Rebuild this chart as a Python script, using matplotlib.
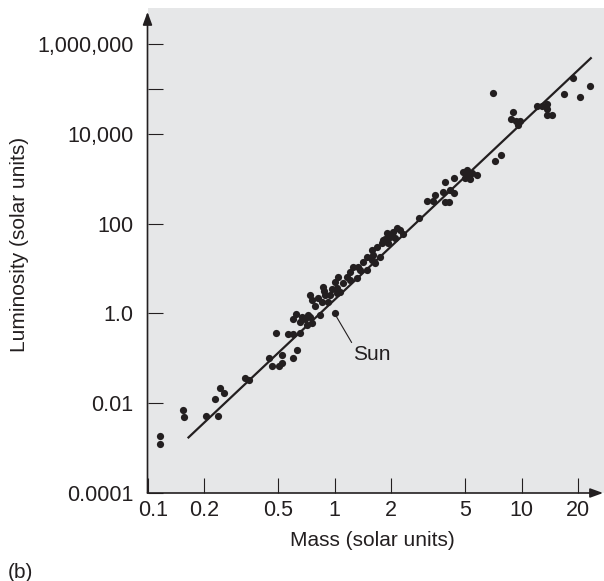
import matplotlib
matplotlib.use('Agg')
import matplotlib.pyplot as plt
from matplotlib.transforms import ScaledTranslation

plt.rcParams['font.family'] = ['Liberation Sans', 'DejaVu Sans']

ink = '#231f20'
bg = '#e6e7e8'

# stars: mass and luminosity in solar units
mass = [0.116, 0.116, 0.154, 0.157, 0.205, 0.238, 0.230, 0.243, 0.257, 0.333,
        0.351, 0.444, 0.461, 0.486, 0.507, 0.521, 0.523, 0.562, 0.602, 0.602,
        0.632, 0.654, 0.622, 0.602, 0.654, 0.695, 0.740, 0.755, 0.710, 0.837,
        0.668, 0.724, 0.740, 0.755, 0.787, 0.819, 0.855, 0.889, 0.927, 0.946,
        0.879, 1.028, 0.871, 0.966, 1.028, 1.070, 1.006, 1.114, 1.048, 1.162,
        1.21, 1.21, 1.26, 1.314, 1.34, 1.369, 1.426, 1.487, 1.487, 1.58,
        1.647, 1.58, 1.613, 1.682, 1.751, 1.788, 1.824, 1.916, 1.94, 1.862,
        1.981, 2.063, 2.15, 2.24, 2.33, 2.106, 2.82, 3.14, 3.38, 3.45,
        3.80, 3.90, 4.10, 3.90, 4.15, 4.33, 4.36, 4.88, 5.09, 5.19,
        4.99, 5.30, 5.76, 5.42, 7.22, 7.77, 7.07, 8.97, 8.79, 9.29,
        9.78, 9.52, 12.15, 12.8, 13.6, 13.6, 13.7, 14.6, 18.8, 16.9,
        20.6, 23.2]
lum = [0.00183, 0.00122, 0.00698, 0.0050, 0.00527, 0.00527, 0.0121, 0.0221, 0.0166, 0.0370,
       0.0321, 0.0991, 0.0675, 0.372, 0.0664, 0.0798, 0.117, 0.343, 0.343, 0.100,
       0.153, 0.360, 0.970, 0.740, 0.653, 0.740, 0.843, 0.603, 0.552, 0.920,
       0.843, 0.920, 2.57, 1.99, 1.46, 2.17, 1.82, 2.57, 1.82, 2.57,
       3.16, 2.80, 3.93, 3.49, 3.62, 3.04, 5.08, 4.68, 6.56, 6.56,
       5.55, 8.49, 11.0, 6.05, 11.0, 9.26, 14.2, 18.3, 9.26, 15.5,
       13.1, 25.8, 20.0, 30.6, 18.3, 36.4, 43.1, 60.2, 36.4, 44.7,
       49.5, 66.0, 79.8, 72.0, 58.6, 47.1, 135, 319, 316, 433,
       513, 307, 307, 823, 560, 473, 1052, 1374, 1563, 1178,
       1021, 985, 1191, 1319, 2478, 3289, 79800, 30270, 21380, 19480,
       19080, 15700, 41600, 41600, 46600, 34760, 25580, 25580, 172200, 76200,
       66000, 116000]
sun_mass = 1.0
sun_lum = 1.0

# mass-luminosity relation drawn through the points
line_mass = [0.164, 23.7]
line_lum = [0.00166, 5.0e5]

x_ticks = [0.1, 0.2, 0.5, 1, 2, 5, 10, 20]
x_labels = ['0.1', '0.2', '0.5', '1', '2', '5', '10', '20']
y_ticks = [1e-4, 1e-2, 1, 1e2, 1e4, 1e5, 1e6]
y_labels = ['0.0001', '0.01', '1.0', '100', '10,000', '', '1,000,000']

fig = plt.figure(figsize=(6.04, 5.81), dpi=100)
ax = fig.add_axes([147.5/604, 88/581, 456.5/604, 485/581])
ax.set_facecolor(bg)

ax.plot(line_mass, line_lum, color=ink, lw=1.6, solid_capstyle='butt', zorder=2)
ax.plot(mass + [sun_mass], lum + [sun_lum], 'o', color=ink, ms=5.2, mew=0, zorder=3)

ax.set_xscale('log')
ax.set_yscale('log')
ax.set_xlim(0.1, 27.6)
ax.set_ylim(1e-4, 6.3e6)

ax.set_xticks(x_ticks)
ax.set_xticklabels(x_labels)
ax.set_yticks(y_ticks)
ax.set_yticklabels(y_labels)
ax.minorticks_off()
ax.tick_params(direction='in', length=11, width=0.8, color=ink, labelcolor=ink, labelsize=15.5)
ax.tick_params(axis='y', pad=10)
ax.tick_params(axis='x', pad=5)

# the 0.1 label sits a little right of the corner
first = ax.get_xticklabels()[0]
first.set_transform(first.get_transform() + ScaledTranslation(4/72, 0, fig.dpi_scale_trans))

for s in ax.spines.values():
    s.set_visible(False)

arrow = dict(arrowstyle='-|>,head_length=0.55,head_width=0.2', color=ink, lw=1.2,
             mutation_scale=14, shrinkA=0, shrinkB=0)
ax.annotate('', xy=(0, 0.992), xytext=(0, 0), xycoords='axes fraction', arrowprops=arrow)
ax.annotate('', xy=(0.998, 0), xytext=(0, 0), xycoords='axes fraction', arrowprops=arrow)

ax.annotate('Sun', xy=(sun_mass, sun_lum), xytext=(13.5, -23), textcoords='offset points',
            fontsize=15, color=ink, ha='left', va='top',
            arrowprops=dict(arrowstyle='-', color=ink, lw=0.8, shrinkA=0, shrinkB=0,
                            relpos=(0, 1)))

fig.text(372/604, 1 - 541/581, 'Mass (solar units)', fontsize=15, color=ink,
         ha='center', va='center')
fig.text(20/604, 1 - 244/581, 'Luminosity (solar units)', fontsize=15, color=ink,
         ha='center', va='center', rotation=90)
fig.text(8/604, 1 - 573/581, '(b)', fontsize=15, color=ink, ha='left', va='center')

fig.savefig('out.png', dpi=100)
